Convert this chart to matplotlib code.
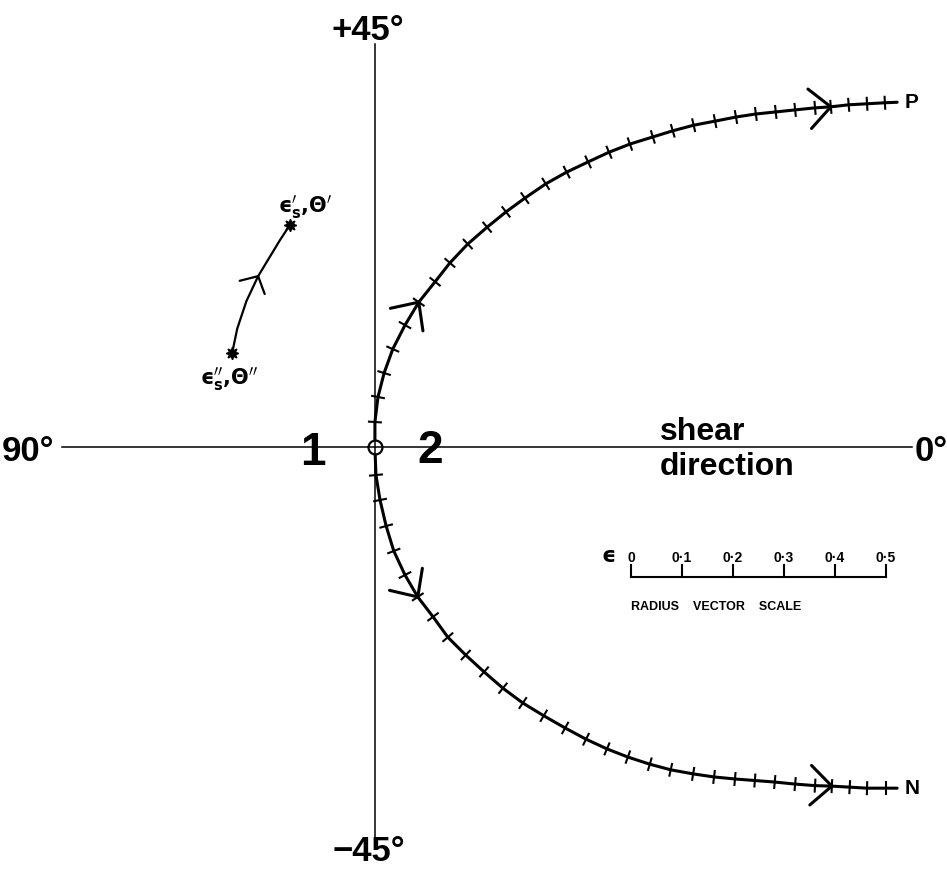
import numpy as np
import matplotlib.pyplot as plt
from matplotlib.collections import LineCollection

plt.rcParams['font.family'] = ['Liberation Sans', 'DejaVu Sans']
plt.rcParams['mathtext.fontset'] = 'dejavusans'
plt.rcParams['mathtext.default'] = 'bf'

# ---- data (radius-vector units, origin = centre of diagram; angle doubled) ----
# tick marks along the upper (P) branch
upper_x = [0.000, 0.006, 0.018, 0.035, 0.059, 0.086, 0.118, 0.147, 0.182, 0.220,
           0.257, 0.294, 0.335, 0.376, 0.418, 0.459, 0.500, 0.545, 0.584, 0.625,
           0.667, 0.708, 0.747, 0.786, 0.824, 0.863, 0.894, 0.929, 0.965, 1.000]
upper_y = [0.049, 0.098, 0.145, 0.192, 0.239, 0.284, 0.324, 0.361, 0.398, 0.431,
           0.461, 0.488, 0.516, 0.539, 0.559, 0.578, 0.594, 0.608, 0.620, 0.631,
           0.639, 0.647, 0.653, 0.657, 0.661, 0.665, 0.667, 0.671, 0.673, 0.675]
upper_end = (1.024, 0.676)
# tick marks along the lower (N) branch
lower_x = [0.002, 0.010, 0.022, 0.037, 0.059, 0.084, 0.114, 0.143, 0.178, 0.214,
           0.251, 0.290, 0.331, 0.373, 0.414, 0.455, 0.496, 0.539, 0.580, 0.624,
           0.665, 0.706, 0.745, 0.784, 0.824, 0.863, 0.896, 0.931, 0.965, 1.002]
lower_y = [-0.055, -0.104, -0.155, -0.204, -0.251, -0.294, -0.333, -0.373, -0.408, -0.441,
           -0.473, -0.502, -0.527, -0.551, -0.573, -0.592, -0.608, -0.622, -0.633, -0.641,
           -0.647, -0.651, -0.654, -0.657, -0.661, -0.664, -0.665, -0.667, -0.669, -0.669]
lower_end = (1.024, -0.669)
# arrowheads (index of tick where the arrow sits)
upper_arrows = [5, 26]
lower_arrows = [5, 26]

# small path from (eps_s'', theta'') to (eps_s', theta')
path_x = [-0.280, -0.270, -0.252, -0.229, -0.206, -0.186, -0.167]
path_y = [0.184, 0.232, 0.286, 0.335, 0.373, 0.406, 0.435]
path_arrow = 3

# radius vector scale
scale_vals = [0, 0.1, 0.2, 0.3, 0.4, 0.5]
scale_labels = ['0', '0·1', '0·2', '0·3', '0·4', '0·5']
scale_origin = (0.502, -0.255)

# ---- figure ----
fig = plt.figure(figsize=(9.47, 8.69), dpi=100)
ax = fig.add_axes([0, 0, 1, 1])
ax.set_xlim(-0.735, 1.1216)
ax.set_ylim(-0.8275, 0.8765)
ax.set_aspect('equal')
ax.axis('off')

PX = 1 / 510.0  # one pixel in data units

# axes of the diagram
ax.plot([-0.614, 1.053], [0, 0], color='black', lw=1.1)
ax.plot([0, 0], [-0.772, 0.79], color='black', lw=1.1)
ax.plot([0], [0], marker='o', ms=10, mfc='white', mec='black', mew=1.6, zorder=5)
ax.plot([0, 0], [-0.014, 0.014], color='black', lw=1.1, zorder=6)
ax.plot([-0.014, 0.014], [0, 0], color='black', lw=1.1, zorder=6)


def arrowhead(x, y, t, length, ang, lw):
    b = -t
    for s in (1, -1):
        a = np.radians(ang * s)
        r = np.array([b[0] * np.cos(a) - b[1] * np.sin(a), b[0] * np.sin(a) + b[1] * np.cos(a)])
        ax.plot([x, x + r[0] * length], [y, y + r[1] * length], color='black', lw=lw,
                solid_capstyle='round', zorder=4)


def branch(xs, ys, end, arrows):
    px_ = np.array([0.0] + list(xs) + [end[0]])
    py_ = np.array([0.0] + list(ys) + [end[1]])
    ax.plot(px_, py_, color='black', lw=2.2, solid_capstyle='round',
            solid_joinstyle='round', zorder=4)
    segs = []
    for i in range(1, len(px_) - 1):
        t = np.array([px_[i + 1] - px_[i - 1], py_[i + 1] - py_[i - 1]])
        t /= np.hypot(*t)
        n = np.array([-t[1], t[0]]) * 7 * PX
        segs.append([(px_[i] - n[0], py_[i] - n[1]), (px_[i] + n[0], py_[i] + n[1])])
    ax.add_collection(LineCollection(segs, colors='black', linewidths=1.5, zorder=4))
    for k in arrows:
        i = k + 1
        t = np.array([px_[i + 1] - px_[i - 1], py_[i + 1] - py_[i - 1]])
        t /= np.hypot(*t)
        arrowhead(px_[i], py_[i], t, 29 * PX, 43, 2.2)


branch(upper_x, upper_y, upper_end, upper_arrows)
branch(lower_x, lower_y, lower_end, lower_arrows)

# small path
ax.plot(path_x, path_y, color='black', lw=1.6, solid_joinstyle='round', zorder=4)
t = np.array([path_x[path_arrow + 1] - path_x[path_arrow - 1],
              path_y[path_arrow + 1] - path_y[path_arrow - 1]])
t /= np.hypot(*t)
arrowhead(path_x[path_arrow], path_y[path_arrow], t, 19 * PX, 48, 1.6)
ax.plot([path_x[0], path_x[-1]], [path_y[0], path_y[-1]], ls='none', marker=(8, 1, 0),
        ms=9, color='black', zorder=5)

ax.text(-0.190, 0.460, "$ϵ^{\\prime}_{s}{,}Θ^{\\prime}$", fontsize=15,
        ha='left', va='baseline')
ax.text(-0.343, 0.122, "$ϵ^{\\prime\\prime}_{s}{,}Θ^{\\prime\\prime}$", fontsize=15,
        ha='left', va='baseline')

# labels
bold = dict(fontweight='bold', color='black')
ax.text(-0.014, 0.798, '+45°', fontsize=25, ha='center', va='baseline', **bold)
ax.text(-0.012, -0.8255, '−45°', fontsize=25, ha='center', va='bottom', **bold)
ax.text(-0.731, -0.027, '90°', fontsize=25, ha='left', va='baseline', **bold)
ax.text(1.059, -0.027, '0°', fontsize=25, ha='left', va='baseline', **bold)
ax.text(-0.122, -0.035, '1', fontsize=33, ha='center', va='baseline', **bold)
ax.text(0.108, -0.031, '2', fontsize=33, ha='center', va='baseline', **bold)
ax.text(0.559, 0.014, 'shear', fontsize=23, ha='left', va='baseline', **bold)
ax.text(0.559, -0.055, 'direction', fontsize=23, ha='left', va='baseline', **bold)
ax.text(1.039, 0.675, 'P', fontsize=15, ha='left', va='center', **bold)
ax.text(1.039, -0.669, 'N', fontsize=15, ha='left', va='center', **bold)

# radius vector scale
sx0, sy0 = scale_origin
ax.plot([sx0 + scale_vals[0], sx0 + scale_vals[-1]], [sy0, sy0], color='black', lw=1.5)
for v, lab in zip(scale_vals, scale_labels):
    ax.plot([sx0 + v, sx0 + v], [sy0, sy0 + 12 * PX], color='black', lw=1.5)
    ax.text(sx0 + v, sy0 + 15 * PX, lab, fontsize=10, ha='center', va='baseline', **bold)
ax.text(sx0 - 22 * PX, sy0 + 15 * PX, 'ϵ', fontsize=16, ha='center', va='baseline',
        family='DejaVu Sans', fontweight='bold')
ax.text(sx0, sy0 - 33 * PX, 'RADIUS    VECTOR    SCALE', fontsize=9, ha='left',
        va='baseline', **bold)

fig.savefig('out.png', dpi=100)
